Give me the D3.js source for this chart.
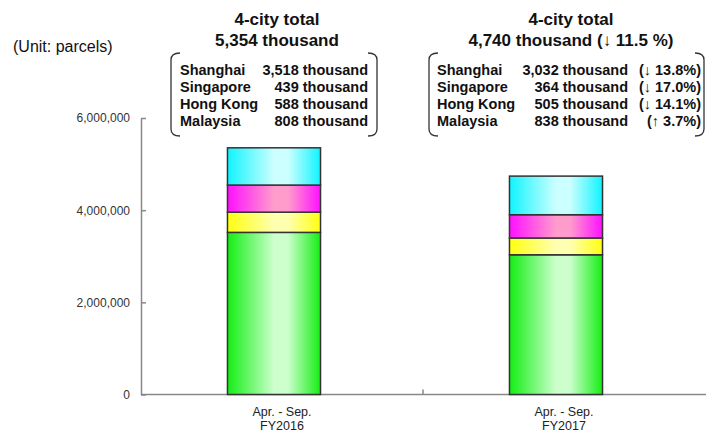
<!DOCTYPE html>
<html>
<head>
<meta charset="UTF-8">
<title>4-city parcels</title>
<script src="https://cdn.jsdelivr.net/npm/d3@7"></script>
<style>
  body { margin: 0; background: #fff; }
  svg { display: block; font-family: "Liberation Sans", Arial, sans-serif; }
  .axis path, .axis line { stroke: #888; stroke-width: 1.5px; }
  .axis text { fill: #333; font-size: 12px; }
  .title { font-weight: bold; font-size: 17px; fill: #111; }
  .row { font-weight: bold; font-size: 14.5px; fill: #111; }
</style>
</head>
<body>
<div id="chart"></div>
<script>
// data (thousand parcels)
var periods = ["FY2016", "FY2017"];
var periodLabel = "Apr. - Sep.";
var cities = ["Shanghai", "Singapore", "Hong Kong", "Malaysia"];
var fy2016 = [3518, 439, 588, 808];
var fy2017 = [3032, 364, 505, 838];
var change2017 = ["↓ 13.8%", "↓ 17.0%", "↓ 14.1%", "↑ 3.7%"];
var totals = ["5,354", "4,740"];
var totalChange = "↓ 11.5 %";
var yTicks = [0, 2000000, 4000000, 6000000];

var colors = [
  { edge: "#14ee14", mid: "#ccffcc" },
  { edge: "#ffff10", mid: "#ffffb0" },
  { edge: "#ff10ff", mid: "#ff9ccc" },
  { edge: "#10f4ff", mid: "#ccffff" }
];

var width = 706, height = 433;
var svg = d3.select("#chart").append("svg")
  .attr("width", width).attr("height", height);

var x = d3.scaleBand().domain(periods).range([141, 705]);
var y = d3.scaleLinear().domain([0, 6000000]).range([394.5, 118]);

// gradients, pale in the middle
var defs = svg.append("defs");
colors.forEach(function(c, i) {
  var g = defs.append("linearGradient").attr("id", "g" + i)
    .attr("x1", 0).attr("x2", 1).attr("y1", 0).attr("y2", 0);
  g.append("stop").attr("offset", 0).attr("stop-color", c.edge);
  g.append("stop").attr("offset", 0.5).attr("stop-color", c.mid);
  g.append("stop").attr("offset", 0.65).attr("stop-color", c.mid);
  g.append("stop").attr("offset", 1).attr("stop-color", c.edge);
});

// stack the series
var rows = [fy2016, fy2017].map(function(vals, pi) {
  var o = { period: periods[pi] };
  cities.forEach(function(c, i) { o[c] = vals[i] * 1000; });
  return o;
});
var stacked = d3.stack().keys(cities)(rows);

var barW = x.bandwidth() * 0.33;
var shift = -8;

// axes
var yAxis = d3.axisLeft(y).tickValues(yTicks)
  .tickSizeInner(-5).tickSizeOuter(0).tickPadding(11)
  .tickFormat(d3.format(","));
svg.append("g").attr("class", "axis")
  .attr("transform", "translate(141,0)")
  .call(yAxis);

var xAxisG = svg.append("g").attr("class", "axis")
  .attr("transform", "translate(0," + y(0) + ")");
xAxisG.append("line").attr("x1", x.range()[0]).attr("x2", x.range()[1] + 1);
xAxisG.selectAll(".bt").data(periods.slice(1)).enter().append("line")
  .attr("x1", function(d) { return x(d); })
  .attr("x2", function(d) { return x(d); })
  .attr("y1", 0).attr("y2", -5);

// bars
svg.selectAll(".layer").data(stacked).enter().append("g")
  .attr("fill", function(d, i) { return "url(#g" + i + ")"; })
  .selectAll("rect").data(function(d) { return d; }).enter().append("rect")
  .attr("x", function(d) { return x(d.data.period) + (x.bandwidth() - barW) / 2 + shift; })
  .attr("width", barW)
  .attr("y", function(d) { return y(d[1]); })
  .attr("height", function(d) { return y(d[0]) - y(d[1]); })
  .attr("stroke", "#333").attr("stroke-width", 1.5);

// x labels
var xl = svg.selectAll(".xl").data(periods).enter().append("text")
  .attr("text-anchor", "middle").attr("font-size", 12.5).attr("fill", "#222");
xl.append("tspan")
  .attr("x", function(d) { return x(d) + x.bandwidth() / 2; })
  .attr("y", 416).text(periodLabel);
xl.append("tspan")
  .attr("x", function(d) { return x(d) + x.bandwidth() / 2; })
  .attr("y", 429.5).text(function(d) { return d; });

// unit
svg.append("text").attr("x", 13).attr("y", 52)
  .attr("font-size", 16).attr("fill", "#111").text("(Unit: parcels)");

// titles
var titleX = [277, 571];
svg.selectAll(".t1").data(periods).enter().append("text").attr("class", "title")
  .attr("text-anchor", "middle")
  .attr("x", function(d, i) { return titleX[i]; }).attr("y", 25)
  .text("4-city total");
svg.selectAll(".t2").data(periods).enter().append("text").attr("class", "title")
  .attr("text-anchor", "middle")
  .attr("x", function(d, i) { return titleX[i]; }).attr("y", 46)
  .text(function(d, i) { return totals[i] + " thousand" + (i == 1 ? " (" + totalChange + ")" : ""); });

// brackets
function bracket(x0, x1, y0, y1) {
  var h = 9, c = 7;
  var p = d3.path();
  p.moveTo(x0 + h, y0);
  p.quadraticCurveTo(x0, y0, x0, y0 + c);
  p.lineTo(x0, y1 - c);
  p.quadraticCurveTo(x0, y1, x0 + h, y1);
  p.moveTo(x1 - h, y0);
  p.quadraticCurveTo(x1, y0, x1, y0 + c);
  p.lineTo(x1, y1 - c);
  p.quadraticCurveTo(x1, y1, x1 - h, y1);
  svg.append("path").attr("d", p.toString())
    .attr("fill", "none").attr("stroke", "#333").attr("stroke-width", 1.3);
}
bracket(171, 377, 53, 136);
bracket(429, 704, 53, 136);

// table rows
var rowY = function(i) { return 75 + i * 17; };
function fmt(v) { return d3.format(",")(v) + " thousand"; }

svg.selectAll(".n1").data(cities).enter().append("text").attr("class", "row")
  .attr("x", 180).attr("y", function(d, i) { return rowY(i); }).text(function(d) { return d; });
svg.selectAll(".v1").data(fy2016).enter().append("text").attr("class", "row")
  .attr("text-anchor", "end")
  .attr("x", 368).attr("y", function(d, i) { return rowY(i); }).text(fmt);

svg.selectAll(".n2").data(cities).enter().append("text").attr("class", "row")
  .attr("x", 437).attr("y", function(d, i) { return rowY(i); }).text(function(d) { return d; });
svg.selectAll(".v2").data(fy2017).enter().append("text").attr("class", "row")
  .attr("text-anchor", "end")
  .attr("x", 628).attr("y", function(d, i) { return rowY(i); }).text(fmt);
svg.selectAll(".c2").data(change2017).enter().append("text").attr("class", "row")
  .attr("text-anchor", "end")
  .attr("x", 701).attr("y", function(d, i) { return rowY(i); }).text(function(d) { return "(" + d + ")"; });
</script>
</body>
</html>
